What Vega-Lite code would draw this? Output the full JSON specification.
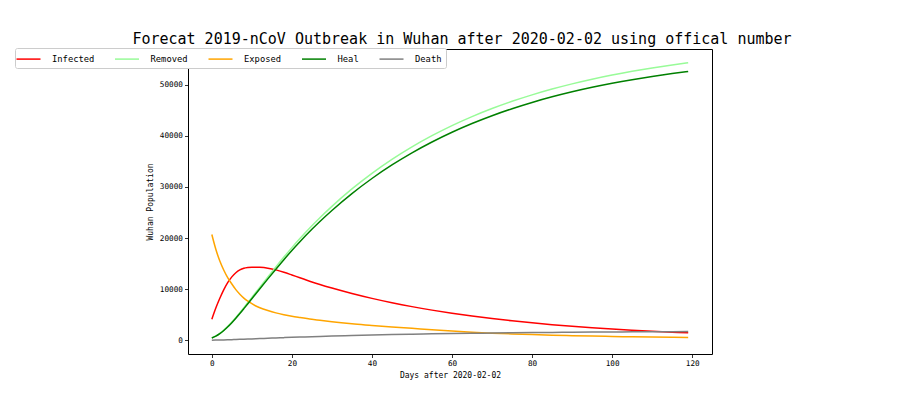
{
"$schema": "https://vega.github.io/schema/vega-lite/v6.json",
"width": 524, "height": 305,
"autosize": {"type": "none"},
"padding": {"left": 188, "top": 49, "right": 205, "bottom": 44},
"background": "white",
"title": {"text": "Forecat 2019-nCoV Outbreak in Wuhan after 2020-02-02 using offical number", "font": "DejaVu Sans Mono", "fontSize": 15, "fontWeight": "normal", "color": "black", "anchor": "middle", "frame": "group", "dx": 12, "dy": 17, "offset": 6, "baseline": "alphabetic"},
"datasets": {
"rows": [
{"day":0,"Infected":4100,"Removed":450,"Exposed":20700,"Heal":436,"Death":14},
{"day":1,"Infected":6300,"Removed":816,"Exposed":17800,"Heal":791,"Death":25},
{"day":2,"Infected":8200,"Removed":1327,"Exposed":15500,"Heal":1286,"Death":41},
{"day":3,"Infected":9900,"Removed":1965,"Exposed":13700,"Heal":1904,"Death":61},
{"day":4,"Infected":11300,"Removed":2712,"Exposed":12200,"Heal":2628,"Death":84},
{"day":5,"Infected":12400,"Removed":3547,"Exposed":11000,"Heal":3437,"Death":110},
{"day":6,"Infected":13200,"Removed":4449,"Exposed":9900,"Heal":4311,"Death":138},
{"day":7,"Infected":13750,"Removed":5398,"Exposed":9000,"Heal":5231,"Death":167},
{"day":8,"Infected":14080,"Removed":6379,"Exposed":8250,"Heal":6181,"Death":198},
{"day":9,"Infected":14230,"Removed":7376,"Exposed":7650,"Heal":7147,"Death":229},
{"day":10,"Infected":14290,"Removed":8380,"Exposed":7150,"Heal":8120,"Death":260},
{"day":11,"Infected":14290,"Removed":9386,"Exposed":6700,"Heal":9095,"Death":291},
{"day":12,"Infected":14260,"Removed":10390,"Exposed":6350,"Heal":10068,"Death":322},
{"day":14,"Infected":14090,"Removed":12384,"Exposed":5800,"Heal":12000,"Death":384},
{"day":16,"Infected":13770,"Removed":14352,"Exposed":5350,"Heal":13907,"Death":445},
{"day":18,"Infected":13310,"Removed":16272,"Exposed":5000,"Heal":15768,"Death":504},
{"day":20,"Infected":12770,"Removed":18121,"Exposed":4700,"Heal":17559,"Death":562},
{"day":22,"Infected":12210,"Removed":19890,"Exposed":4450,"Heal":19273,"Death":617},
{"day":25,"Infected":11400,"Removed":22395,"Exposed":4100,"Heal":21701,"Death":694},
{"day":27,"Infected":10900,"Removed":23970,"Exposed":3900,"Heal":23227,"Death":743},
{"day":30,"Infected":10204,"Removed":26200,"Exposed":3600,"Heal":25388,"Death":812},
{"day":35,"Infected":9142,"Removed":29608,"Exposed":3200,"Heal":28690,"Death":918},
{"day":40,"Infected":8190,"Removed":32661,"Exposed":2900,"Heal":31649,"Death":1012},
{"day":45,"Infected":7337,"Removed":35396,"Exposed":2600,"Heal":34299,"Death":1097},
{"day":50,"Infected":6572,"Removed":37846,"Exposed":2330,"Heal":36673,"Death":1173},
{"day":55,"Infected":5888,"Removed":40041,"Exposed":2060,"Heal":38800,"Death":1241},
{"day":60,"Infected":5274,"Removed":42007,"Exposed":1780,"Heal":40705,"Death":1302},
{"day":65,"Infected":4724,"Removed":43768,"Exposed":1550,"Heal":42411,"Death":1357},
{"day":70,"Infected":4233,"Removed":45346,"Exposed":1380,"Heal":43940,"Death":1406},
{"day":75,"Infected":3792,"Removed":46760,"Exposed":1230,"Heal":45310,"Death":1450},
{"day":80,"Infected":3397,"Removed":48026,"Exposed":1100,"Heal":46537,"Death":1489},
{"day":85,"Infected":3043,"Removed":49160,"Exposed":990,"Heal":47636,"Death":1524},
{"day":90,"Infected":2726,"Removed":50176,"Exposed":890,"Heal":48621,"Death":1555},
{"day":95,"Infected":2442,"Removed":51087,"Exposed":810,"Heal":49503,"Death":1584},
{"day":100,"Infected":2188,"Removed":51903,"Exposed":740,"Heal":50294,"Death":1609},
{"day":105,"Infected":1960,"Removed":52633,"Exposed":670,"Heal":51001,"Death":1632},
{"day":110,"Infected":1755,"Removed":53288,"Exposed":610,"Heal":51636,"Death":1652},
{"day":115,"Infected":1573,"Removed":53874,"Exposed":560,"Heal":52204,"Death":1670},
{"day":119,"Infected":1440,"Removed":54299,"Exposed":530,"Heal":52616,"Death":1683}
]
},
"data": {"name": "rows"},
"transform": [{"fold": ["Infected", "Removed", "Exposed", "Heal", "Death"], "as": ["series", "value"]}],
"mark": {"type": "line", "strokeWidth": 1.5, "interpolate": "monotone", "clip": true},
"encoding": {
"x": {"field": "day", "type": "quantitative", "scale": {"domain": [-5.95, 124.95], "nice": false, "zero": false}, "axis": {"values": [0, 20, 40, 60, 80, 100, 120], "title": "Days after 2020-02-02", "grid": false, "titlePadding": 4}},
"y": {"field": "value", "type": "quantitative", "scale": {"domain": [-2700, 57000], "nice": false, "zero": false}, "axis": {"values": [0, 10000, 20000, 30000, 40000, 50000], "format": "d", "title": "Wuhan Population", "grid": false, "titlePadding": 5}},
"color": {"field": "series", "type": "nominal", "sort": ["Infected", "Removed", "Exposed", "Heal", "Death"], "scale": {"domain": ["Infected", "Removed", "Exposed", "Heal", "Death"], "range": ["#ff0000", "#98fb98", "#ffa500", "#008000", "#808080"]}, "legend": {"title": null, "orient": "none", "legendX": -173, "legendY": -1, "direction": "horizontal", "columns": 5, "symbolType": "M-2,0H2", "symbolSize": 144, "symbolOffset": 2.5, "symbolStrokeWidth": 1.5, "labelFont": "DejaVu Sans Mono", "labelFontSize": 8.8, "labelColor": "black", "labelOffset": 16.5, "columnPadding": 16.5, "padding": 4, "strokeColor": "#cccccc", "fillColor": "white", "cornerRadius": 2}}
},
"config": {
"view": {"stroke": "black", "strokeWidth": 1},
"axis": {"domain": false, "ticks": true, "tickColor": "black", "tickSize": 3.5, "tickWidth": 0.8, "labelFont": "DejaVu Sans Mono", "labelFontSize": 7.7, "labelColor": "black", "labelPadding": 2, "titleFont": "DejaVu Sans Mono", "titleFontSize": 8, "titleFontWeight": "normal", "titleColor": "black"}
}
}
